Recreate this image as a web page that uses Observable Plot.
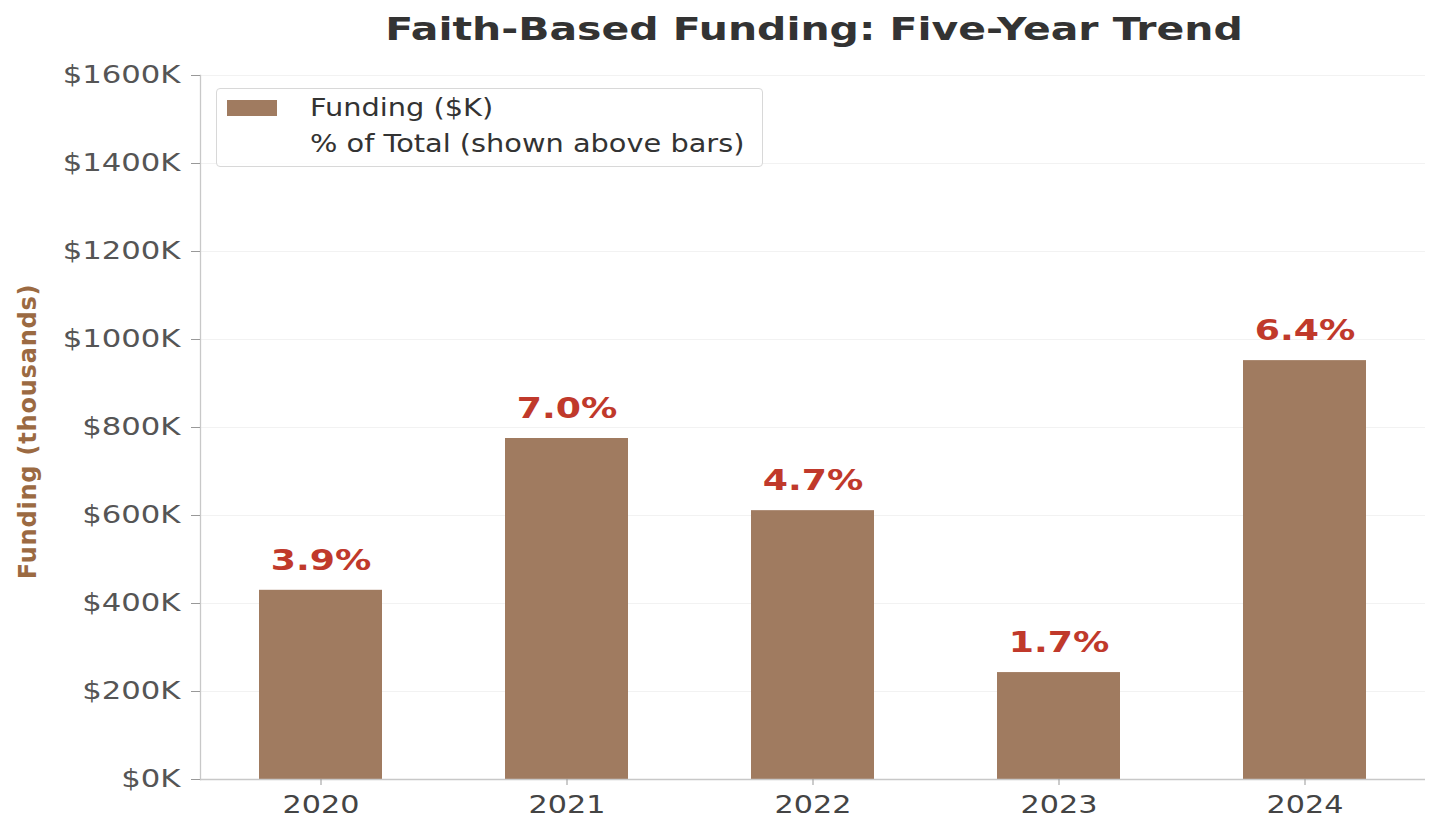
<!DOCTYPE html>
<html>
<head>
<meta charset="utf-8">
<script src="https://cdn.jsdelivr.net/npm/d3@7"></script>
<script src="https://cdn.jsdelivr.net/npm/@observablehq/plot@0.6"></script>
<style>
  html, body { margin: 0; padding: 0; background: #fff; }
  body { width: 1429px; height: 821px; overflow: hidden; font-family: "DejaVu Sans", sans-serif; }
  #title { height: 55px; line-height: 58px; text-align: center; padding-left: 198px; box-sizing: border-box; }
  #title span { display: inline-block; font-weight: bold; font-size: 32px; color: #333; transform: scaleX(1.28); transform-origin: center; }
  #wrap { position: relative; }
  #legend { position: absolute; left: 216px; top: 33px; width: 547px; height: 79px; border: 1px solid #d8d8d8; border-radius: 4px; background: rgba(255,255,255,0.85); box-sizing: border-box; font-size: 24px; color: #333; }
  .row { position: absolute; left: 10px; display: flex; align-items: center; }
  .row span { display: inline-block; transform: scaleX(1.2); transform-origin: left center; }
  .sw { width: 50px; height: 16px; background: #A07B60; margin-right: 33px; }
  .nosw { width: 50px; height: 16px; margin-right: 33px; }
</style>
</head>
<body>
<div id="title"><span>Faith-Based Funding: Five-Year Trend</span></div>
<div id="wrap">
  <div id="chart"></div>
  <div id="legend">
    <div class="row" style="top:5px"><div class="sw"></div><span>Funding ($K)</span></div>
    <div class="row" style="top:41px"><div class="nosw"></div><span>% of Total (shown above bars)</span></div>
  </div>
</div>
<script>
const years = ["2020", "2021", "2022", "2023", "2024"];
const funding = [430, 775, 611, 243, 952];
const pctLabels = ["3.9%", "7.0%", "4.7%", "1.7%", "6.4%"];
const yTicks = [0, 200, 400, 600, 800, 1000, 1200, 1400, 1600];

const data = years.map((y, i) => ({year: y, funding: funding[i], pct: pctLabels[i]}));

const chart = Plot.plot({
  width: 1429,
  height: 766,
  marginLeft: 200,
  marginRight: 4,
  marginTop: 20,
  marginBottom: 42,
  style: {fontFamily: "DejaVu Sans, sans-serif", background: "#fff"},
  x: {domain: years, paddingInner: 0.5, paddingOuter: 0.23, label: null},
  y: {domain: [0, 1600], label: null},
  marks: [
    Plot.gridY(yTicks, {stroke: "#e6e6e6", strokeOpacity: 0.5}),
    Plot.barY(data, {x: "year", y: "funding", fill: "#A07B60"}),
    Plot.text(data, {x: "year", y: "funding", text: "pct", dy: -30, fill: "#C0392B", fontWeight: "bold", fontSize: 29}),
    Plot.ruleY([0], {stroke: "#c8c8c8", strokeWidth: 1.3}),
    Plot.frame({anchor: "left", stroke: "#c8c8c8", strokeWidth: 1.3}),
    Plot.axisY({ticks: yTicks, tickFormat: d => `$${d}K`, tickSize: 9, tickPadding: 11, fontSize: 24, color: "#555", stroke: "#999", label: null}),
    Plot.axisX({tickSize: 6, tickPadding: 10, fontSize: 25, color: "#444", stroke: "#999", label: null}),
    Plot.text(["Funding (thousands)"], {frameAnchor: "left", textAnchor: "middle", dx: -172, dy: 4, rotate: -90, fill: "#9B6A42", fontWeight: "bold", fontSize: 24})
  ]
});

function stretch(nodes, s) {
  nodes.each(function () {
    const tr = this.getAttribute("transform") || "";
    const xa = this.getAttribute("x");
    const x = xa !== null && !isNaN(+xa) ? +xa : 0;
    if (xa !== null && !isNaN(+xa)) this.setAttribute("x", 0);
    this.setAttribute("transform", `${tr} translate(${x},0) scale(${s},1)`);
  });
}
const svg = d3.select(chart);
stretch(svg.selectAll("g[aria-label='y-axis tick label'] text"), 1.28);
stretch(svg.selectAll("g[aria-label='x-axis tick label'] text"), 1.21);
stretch(svg.selectAll("g[aria-label='text'] text").filter(function () { return this.textContent.includes("%"); }), 1.25);
svg.selectAll("g[aria-label='text'] text").filter(function () { return this.textContent.includes("thousands"); }).style("letter-spacing", "0.8px");

document.getElementById("chart").appendChild(chart);
</script>
</body>
</html>
